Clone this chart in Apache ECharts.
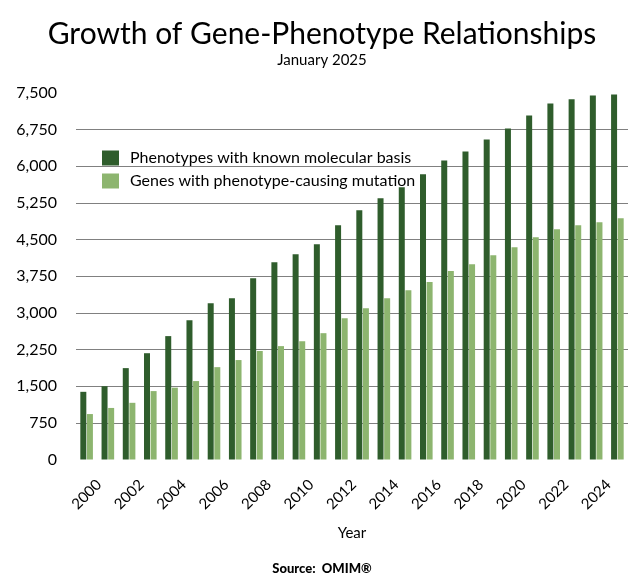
<!DOCTYPE html>
<html>
<head>
<meta charset="utf-8">
<title>Growth of Gene-Phenotype Relationships</title>
<script src="https://cdn.jsdelivr.net/npm/echarts@6/dist/echarts.min.js"></script>
<style>
    html, body { margin: 0; padding: 0; background: #fff; }
    #main { width: 644px; height: 588px; }
</style>
</head>
<body>
<div id="main"></div>
<script>
// 年份
var years = ['2000', '2001', '2002', '2003', '2004', '2005', '2006', '2007', '2008', '2009',
    '2010', '2011', '2012', '2013', '2014', '2015', '2016', '2017', '2018', '2019',
    '2020', '2021', '2022', '2023', '2024', '2025'];

// Phenotypes with known molecular basis
var phenotypes = [1385, 1500, 1870, 2175, 2525, 2850, 3200, 3300, 3710, 4035,
    4200, 4405, 4795, 5100, 5345, 5570, 5835, 6120, 6305, 6550,
    6775, 7040, 7285, 7370, 7450, 7470];

// Genes with phenotype-causing mutation
var genes = [930, 1055, 1160, 1400, 1470, 1605, 1890, 2035, 2220, 2320,
    2420, 2585, 2890, 3095, 3300, 3465, 3630, 3855, 3995, 4180,
    4345, 4550, 4710, 4795, 4855, 4935];

var seriesNames = ['Phenotypes with known molecular basis', 'Genes with phenotype-causing mutation'];

var fontFamily = 'Lato, "Open Sans", sans-serif';

var option = {
    backgroundColor: '#fff',
    textStyle: {fontFamily: fontFamily},
    title: [
        {
            text: 'Growth of Gene-Phenotype Relationships',
            left: 'center',
            top: 14,
            textStyle: {fontSize: 30, fontWeight: 'normal', color: '#000', fontFamily: fontFamily}
        },
        {
            text: 'January 2025',
            left: 'center',
            top: 48,
            textStyle: {fontSize: 15, fontWeight: 'normal', color: '#000', fontFamily: fontFamily}
        },
        {
            text: 'Source:  OMIM®',
            left: 'center',
            top: 557,
            textStyle: {fontSize: 13, fontWeight: 900, color: '#000', fontFamily: fontFamily}
        }
    ],
    legend: {
        data: seriesNames,
        orient: 'vertical',
        left: 97,
        top: 145,
        itemWidth: 17,
        itemHeight: 15,
        itemGap: 7,
        icon: 'rect',
        textStyle: {fontSize: 16, color: '#000', padding: [0, 0, 0, 6]}
    },
    grid: {left: 76, right: 16, top: 93, bottom: 128.5},
    xAxis: {
        type: 'category',
        data: years,
        name: 'Year',
        nameLocation: 'middle',
        nameGap: 66,
        nameTextStyle: {fontSize: 15, color: '#000'},
        axisLine: {show: false},
        axisTick: {show: false},
        axisLabel: {
            interval: 1,
            rotate: 45,
            align: 'center',
            verticalAlign: 'middle',
            margin: 35,
            fontSize: 15,
            color: '#000'
        }
    },
    yAxis: {
        type: 'value',
        min: 0,
        max: 7500,
        interval: 750,
        axisLine: {show: false},
        axisTick: {show: false},
        axisLabel: {
            margin: 19,
            fontSize: 16,
            color: '#000',
            formatter: function (v) { return v.toLocaleString('en-US'); }
        },
        splitLine: {
            show: true,
            showMinLine: false,
            showMaxLine: false,
            lineStyle: {color: '#808080', width: 1}
        }
    },
    series: [
        {
            name: seriesNames[0],
            type: 'bar',
            data: phenotypes,
            barWidth: 6,
            barGap: '10%',
            itemStyle: {color: '#2f5d2c'}
        },
        {
            name: seriesNames[1],
            type: 'bar',
            data: genes,
            barWidth: 6,
            itemStyle: {color: '#8db56f'}
        }
    ]
};

var myChart = echarts.init(document.getElementById('main'), null, {renderer: 'canvas'});
myChart.setOption(option);
</script>
</body>
</html>
